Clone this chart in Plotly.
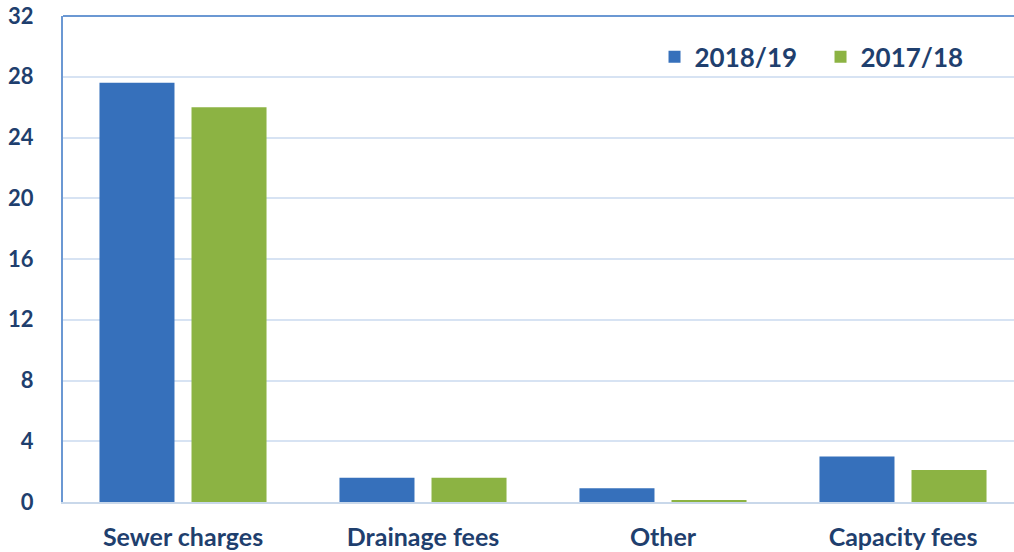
import plotly.graph_objects as go

categories = ["Sewer charges", "Drainage fees", "Other", "Capacity fees"]
series_names = ["2018/19", "2017/18"]
values_2018_19 = [27.6, 1.6, 0.9, 3.0]
values_2017_18 = [26.0, 1.6, 0.1, 2.1]
y_ticks = [0, 4, 8, 12, 16, 20, 24, 28, 32]

navy = "#1f3f6e"
font_family = "Lato, 'Open Sans', sans-serif"

fig = go.Figure()
fig.add_trace(go.Bar(
    name=series_names[0], x=categories, y=values_2018_19,
    marker=dict(color="#3670bb", line=dict(width=0)),
))
fig.add_trace(go.Bar(
    name=series_names[1], x=categories, y=values_2017_18,
    marker=dict(color="#8cb343", line=dict(width=0)),
))

fig.update_layout(
    width=1014, height=552,
    margin=dict(l=63, r=0, t=16, b=50, autoexpand=False),
    paper_bgcolor="white", plot_bgcolor="white",
    barmode="group", bargap=0.233, bargroupgap=0.185,
    font=dict(family=font_family, color=navy),
    legend=dict(
        orientation="h", x=0.622, y=0.916, xanchor="left", yanchor="middle",
        font=dict(size=26, color=navy, family=font_family, weight="bold"),
        bgcolor="rgba(0,0,0,0)", itemwidth=30, traceorder="normal",
        entrywidth=121, entrywidthmode="pixels",
    ),
    showlegend=True,
)
fig.update_xaxes(
    range=[-0.5, 3.4625],
    showgrid=False, automargin=False,
    showline=True, linecolor="#c9d8ea", linewidth=2,
    tickfont=dict(size=25, color=navy, family=font_family, weight="bold"),
    ticks="outside", ticklen=12, tickcolor="rgba(0,0,0,0)",
)
fig.update_yaxes(
    range=[0, 32], tickvals=y_ticks, automargin=False,
    showgrid=True, gridcolor="#d7e3f3", gridwidth=2,
    zeroline=False,
    showline=True, linecolor="#6b98d3", linewidth=2,
    tickfont=dict(size=22, color=navy, family=font_family, weight="bold"),
    ticks="outside", ticklen=23, tickcolor="rgba(0,0,0,0)",
)
fig.add_shape(type="line", xref="paper", yref="paper", x0=0, x1=1, y0=1, y1=1,
              line=dict(color="#6b98d3", width=2))

fig.write_html("out.html", config={"displayModeBar": False},
               post_script="document.body.style.margin='0px';")
